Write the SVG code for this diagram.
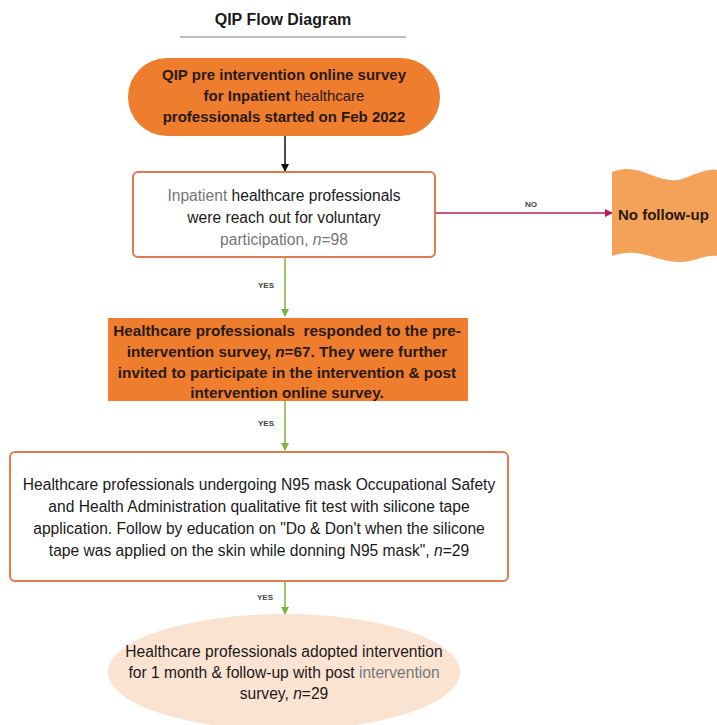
<svg xmlns="http://www.w3.org/2000/svg" width="717" height="725" viewBox="0 0 717 725">
<style>
text{font-family:"Liberation Sans",Arial,sans-serif;font-size:15.6px;fill:#1a1a1a;text-anchor:middle}
.t{font-weight:bold;font-size:16px}
.lbl{font-size:8px;font-weight:bold;fill:#444}
.g{fill:#777}
.dk{fill:#2a1a10;font-weight:bold;font-size:15px}
</style>
<defs>
<marker id="ab" markerWidth="8" markerHeight="8" refX="7" refY="4" orient="auto" markerUnits="userSpaceOnUse"><path d="M0,0 L8,4 L0,8 z" fill="#111"/></marker>
<marker id="ag" markerWidth="8" markerHeight="8" refX="7" refY="4" orient="auto" markerUnits="userSpaceOnUse"><path d="M0,0 L8,4 L0,8 z" fill="#7cb342"/></marker>
<marker id="ar" markerWidth="8" markerHeight="8" refX="7" refY="4" orient="auto" markerUnits="userSpaceOnUse"><path d="M0,0 L8,4 L0,8 z" fill="#c2185b"/></marker>
</defs>
<rect width="717" height="725" fill="#fff"/>
<g id="title">
<text class="t" x="283" y="25">QIP Flow Diagram</text>
<line x1="180" y1="37" x2="406" y2="37" stroke="#bbb" stroke-width="2"/>
</g>
<g id="connectors">
<line x1="285" y1="136" x2="285" y2="171" stroke="#111" stroke-width="1.5" marker-end="url(#ab)"/>
<line x1="285" y1="257" x2="285" y2="316" stroke="#7cb342" stroke-width="1.5" marker-end="url(#ag)"/>
<line x1="285" y1="401" x2="285" y2="450" stroke="#7cb342" stroke-width="1.5" marker-end="url(#ag)"/>
<line x1="285" y1="582" x2="285" y2="614" stroke="#7cb342" stroke-width="1.5" marker-end="url(#ag)"/>
<line x1="436" y1="213" x2="612" y2="213" stroke="#c2185b" stroke-width="1.5" marker-end="url(#ar)"/>
<text class="lbl" x="531" y="207">NO</text>
<text class="lbl" x="266" y="288">YES</text>
<text class="lbl" x="266" y="426">YES</text>
<text class="lbl" x="265" y="600">YES</text>
</g>
<g id="n1">
<rect x="128" y="58" width="312" height="78" rx="39" fill="#ef7d2e"/>
<text class="dk" x="284" y="80">QIP pre intervention online survey</text>
<text class="dk" x="284" y="101">for Inpatient <tspan font-weight="normal">healthcare</tspan></text>
<text class="dk" x="284" y="122">professionals started on Feb 2022</text>
</g>
<g id="n2">
<rect x="133" y="172" width="302" height="85" rx="5" fill="#fff" stroke="#e07b4f" stroke-width="2"/>
<g style="font-size:16.5px">
<text x="284" y="201"><tspan class="g">Inpatient</tspan> healthcare professionals</text>
<text x="284" y="223">were reach out for voluntary</text>
<text x="284" y="245" class="g">participation, <tspan font-style="italic">n</tspan>=98</text>
</g>
</g>
<g id="n3">
<path d="M612,172 C640,160 660,188 685,178 C700,172 710,168 717,170 L717,256 C705,254 695,262 680,262 C655,262 640,246 612,256 Z" fill="#f4a259"/>
<text x="618" y="220" style="text-anchor:start" class="dk">No follow-up</text>
</g>
<g id="n4">
<rect x="108" y="318" width="360" height="83" fill="#ef7d2e"/>
<g style="font-size:15.5px">
<text class="dk" style="font-size:15.3px" x="287" y="336">Healthcare professionals&#160; responded to the pre-</text>
<text class="dk" style="font-size:15.3px" x="287" y="357">intervention survey, <tspan font-style="italic">n</tspan>=67. They were further</text>
<text class="dk" style="font-size:15.3px" x="287" y="378">invited to participate in the intervention &amp; post</text>
<text class="dk" style="font-size:15.3px" x="287" y="398">intervention online survey.</text>
</g>
</g>
<g id="n5">
<rect x="10" y="452" width="498" height="129" rx="5" fill="#fff" stroke="#e07b4f" stroke-width="2"/>
<text x="259" y="490">Healthcare professionals undergoing N95 mask Occupational Safety</text>
<text x="259" y="512">and Health Administration qualitative fit test with silicone tape</text>
<text x="259" y="534">application. Follow by education on "Do &amp; Don't when the silicone</text>
<text x="259" y="556">tape was applied on the skin while donning N95 mask", <tspan font-style="italic">n</tspan>=29</text>
</g>
<g id="n6">
<ellipse cx="284" cy="672" rx="176" ry="58" fill="#fbe3d2"/>
<g style="font-size:16px">
<text x="284" y="657">Healthcare professionals adopted intervention</text>
<text x="284" y="678">for 1 month &amp; follow-up with post <tspan class="g">intervention</tspan></text>
<text x="284" y="699">survey, <tspan font-style="italic">n</tspan>=29</text>
</g>
</g>
</svg>
